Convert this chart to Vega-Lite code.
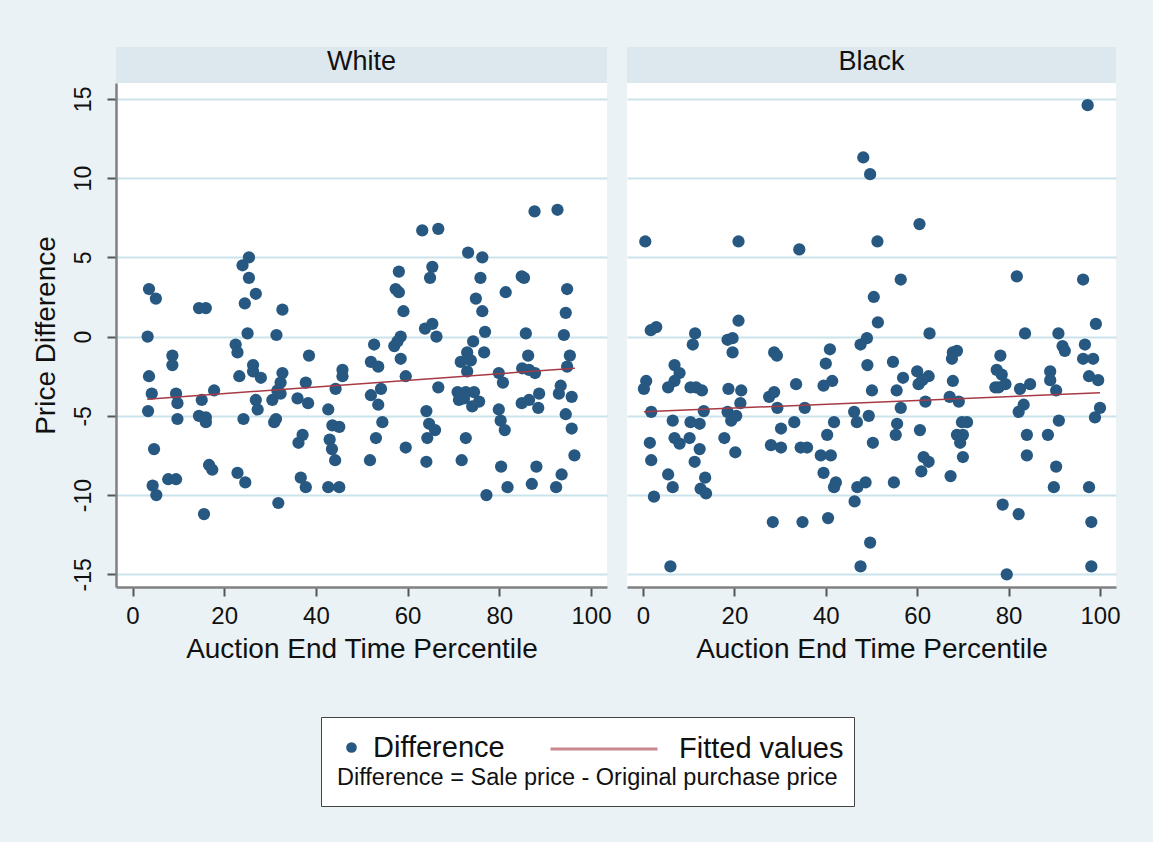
{
  "$schema": "https://vega.github.io/schema/vega-lite/v6.json",
  "background": "#EBF2F5",
  "padding": {"left": 31, "top": 47, "right": 40, "bottom": 45},
  "config": {
    "font": "Liberation Sans",
    "view": {"stroke": null},
    "axis": {"labelFont": "Liberation Sans", "titleFont": "Liberation Sans", "labelColor": "#111", "titleColor": "#111", "titleFontWeight": "normal"},
    "legend": {"labelFont": "Liberation Sans", "titleFont": "Liberation Sans", "labelLimit": 500, "titleLimit": 700}
  },
  "datasets": {
    "headers": [{"race": "White"}, {"race": "Black"}],
    "fit": [
      {"race": "White", "pct": 3.2, "diff": -3.95},
      {"race": "White", "pct": 96.5, "diff": -2.0},
      {"race": "Black", "pct": 0.2, "diff": -4.75},
      {"race": "Black", "pct": 100, "diff": -3.55}
    ],
    "pts": [
      {"race":"White","pct":3.6,"diff":3.0},{"race":"White","pct":5.1,"diff":2.4},{"race":"White","pct":14.5,"diff":1.8},{"race":"White","pct":16.0,"diff":1.8},
      {"race":"White","pct":24.0,"diff":4.5},{"race":"White","pct":25.4,"diff":5.0},{"race":"White","pct":25.4,"diff":3.7},{"race":"White","pct":26.9,"diff":2.7},
      {"race":"White","pct":24.5,"diff":2.1},{"race":"White","pct":32.7,"diff":1.7},{"race":"White","pct":3.3,"diff":0.0},{"race":"White","pct":25.1,"diff":0.2},
      {"race":"White","pct":31.4,"diff":0.1},{"race":"White","pct":22.5,"diff":-0.5},{"race":"White","pct":22.9,"diff":-1.0},{"race":"White","pct":8.7,"diff":-1.2},
      {"race":"White","pct":8.7,"diff":-1.8},{"race":"White","pct":38.5,"diff":-1.2},{"race":"White","pct":3.6,"diff":-2.5},{"race":"White","pct":23.3,"diff":-2.5},
      {"race":"White","pct":26.3,"diff":-1.8},{"race":"White","pct":26.3,"diff":-2.2},{"race":"White","pct":28.0,"diff":-2.6},{"race":"White","pct":32.7,"diff":-2.3},
      {"race":"White","pct":32.3,"diff":-2.9},{"race":"White","pct":31.6,"diff":-3.4},{"race":"White","pct":37.8,"diff":-2.9},{"race":"White","pct":45.8,"diff":-2.1},
      {"race":"White","pct":45.8,"diff":-2.5},{"race":"White","pct":44.3,"diff":-3.3},{"race":"White","pct":4.2,"diff":-3.6},{"race":"White","pct":9.5,"diff":-3.6},
      {"race":"White","pct":9.8,"diff":-4.2},{"race":"White","pct":15.1,"diff":-4.0},{"race":"White","pct":17.8,"diff":-3.4},{"race":"White","pct":26.9,"diff":-4.0},
      {"race":"White","pct":27.3,"diff":-4.6},{"race":"White","pct":30.5,"diff":-4.0},{"race":"White","pct":32.3,"diff":-3.6},{"race":"White","pct":36.0,"diff":-3.9},
      {"race":"White","pct":38.3,"diff":-4.2},{"race":"White","pct":42.7,"diff":-4.6},{"race":"White","pct":3.4,"diff":-4.7},{"race":"White","pct":9.8,"diff":-5.2},
      {"race":"White","pct":14.5,"diff":-5.0},{"race":"White","pct":16.0,"diff":-5.1},{"race":"White","pct":16.0,"diff":-5.4},{"race":"White","pct":24.2,"diff":-5.2},
      {"race":"White","pct":31.3,"diff":-5.2},{"race":"White","pct":30.9,"diff":-5.4},{"race":"White","pct":43.6,"diff":-5.6},{"race":"White","pct":45.1,"diff":-5.7},
      {"race":"White","pct":37.1,"diff":-6.2},{"race":"White","pct":36.2,"diff":-6.7},{"race":"White","pct":43.0,"diff":-6.5},{"race":"White","pct":43.5,"diff":-7.1},
      {"race":"White","pct":44.2,"diff":-7.8},{"race":"White","pct":4.7,"diff":-7.1},{"race":"White","pct":16.7,"diff":-8.1},{"race":"White","pct":17.4,"diff":-8.4},
      {"race":"White","pct":22.9,"diff":-8.6},{"race":"White","pct":24.6,"diff":-9.2},{"race":"White","pct":7.8,"diff":-9.0},{"race":"White","pct":9.5,"diff":-9.0},
      {"race":"White","pct":4.4,"diff":-9.4},{"race":"White","pct":5.2,"diff":-10.0},{"race":"White","pct":36.7,"diff":-8.9},{"race":"White","pct":37.8,"diff":-9.5},
      {"race":"White","pct":42.7,"diff":-9.5},{"race":"White","pct":45.1,"diff":-9.5},{"race":"White","pct":31.8,"diff":-10.5},{"race":"White","pct":15.6,"diff":-11.2},
      {"race":"White","pct":87.7,"diff":7.9},{"race":"White","pct":92.7,"diff":8.0},{"race":"White","pct":63.2,"diff":6.7},{"race":"White","pct":66.7,"diff":6.8},
      {"race":"White","pct":73.2,"diff":5.3},{"race":"White","pct":76.3,"diff":5.0},{"race":"White","pct":58.1,"diff":4.1},{"race":"White","pct":65.4,"diff":4.4},
      {"race":"White","pct":64.9,"diff":3.7},{"race":"White","pct":75.9,"diff":3.7},{"race":"White","pct":84.9,"diff":3.8},{"race":"White","pct":85.4,"diff":3.7},
      {"race":"White","pct":57.4,"diff":3.0},{"race":"White","pct":58.1,"diff":2.8},{"race":"White","pct":94.8,"diff":3.0},{"race":"White","pct":74.9,"diff":2.4},
      {"race":"White","pct":81.4,"diff":2.8},{"race":"White","pct":59.1,"diff":1.6},{"race":"White","pct":76.3,"diff":1.6},{"race":"White","pct":94.5,"diff":1.5},
      {"race":"White","pct":63.8,"diff":0.5},{"race":"White","pct":65.4,"diff":0.8},{"race":"White","pct":58.5,"diff":0.0},{"race":"White","pct":66.3,"diff":0.0},
      {"race":"White","pct":76.9,"diff":0.3},{"race":"White","pct":85.8,"diff":0.2},{"race":"White","pct":94.1,"diff":0.1},{"race":"White","pct":74.3,"diff":-0.3},
      {"race":"White","pct":52.7,"diff":-0.5},{"race":"White","pct":57.1,"diff":-0.6},{"race":"White","pct":57.8,"diff":-0.3},{"race":"White","pct":58.5,"diff":-1.4},
      {"race":"White","pct":59.6,"diff":-2.5},{"race":"White","pct":52.0,"diff":-1.6},{"race":"White","pct":53.6,"diff":-1.9},{"race":"White","pct":54.2,"diff":-3.3},
      {"race":"White","pct":52.0,"diff":-3.7},{"race":"White","pct":53.6,"diff":-4.3},{"race":"White","pct":54.5,"diff":-5.4},{"race":"White","pct":53.1,"diff":-6.4},
      {"race":"White","pct":51.8,"diff":-7.8},{"race":"White","pct":59.6,"diff":-7.0},{"race":"White","pct":66.7,"diff":-3.2},{"race":"White","pct":64.1,"diff":-4.7},
      {"race":"White","pct":64.7,"diff":-5.5},{"race":"White","pct":66.0,"diff":-5.9},{"race":"White","pct":64.3,"diff":-6.4},{"race":"White","pct":64.1,"diff":-7.9},
      {"race":"White","pct":73.0,"diff":-1.0},{"race":"White","pct":71.6,"diff":-1.6},{"race":"White","pct":73.8,"diff":-1.5},{"race":"White","pct":76.7,"diff":-1.0},
      {"race":"White","pct":73.0,"diff":-2.2},{"race":"White","pct":70.9,"diff":-3.5},{"race":"White","pct":71.2,"diff":-4.0},{"race":"White","pct":72.7,"diff":-3.5},
      {"race":"White","pct":74.5,"diff":-3.5},{"race":"White","pct":75.6,"diff":-4.1},{"race":"White","pct":74.1,"diff":-4.4},{"race":"White","pct":72.3,"diff":-3.9},
      {"race":"White","pct":72.7,"diff":-6.4},{"race":"White","pct":71.8,"diff":-7.8},{"race":"White","pct":77.2,"diff":-10.0},{"race":"White","pct":79.9,"diff":-2.3},
      {"race":"White","pct":80.8,"diff":-2.9},{"race":"White","pct":79.9,"diff":-4.6},{"race":"White","pct":80.3,"diff":-5.3},{"race":"White","pct":81.2,"diff":-5.9},
      {"race":"White","pct":80.4,"diff":-8.2},{"race":"White","pct":81.8,"diff":-9.5},{"race":"White","pct":86.3,"diff":-1.2},{"race":"White","pct":85.0,"diff":-2.0},
      {"race":"White","pct":86.5,"diff":-2.1},{"race":"White","pct":87.8,"diff":-2.3},{"race":"White","pct":84.9,"diff":-4.2},{"race":"White","pct":86.5,"diff":-4.0},
      {"race":"White","pct":88.7,"diff":-3.6},{"race":"White","pct":88.5,"diff":-4.5},{"race":"White","pct":88.1,"diff":-8.2},{"race":"White","pct":87.1,"diff":-9.3},
      {"race":"White","pct":95.4,"diff":-1.2},{"race":"White","pct":94.8,"diff":-1.9},{"race":"White","pct":93.4,"diff":-3.1},{"race":"White","pct":93.0,"diff":-3.6},
      {"race":"White","pct":95.8,"diff":-3.8},{"race":"White","pct":94.5,"diff":-4.9},{"race":"White","pct":95.8,"diff":-5.8},{"race":"White","pct":96.4,"diff":-7.5},
      {"race":"White","pct":93.6,"diff":-8.7},{"race":"White","pct":92.4,"diff":-9.5},
      {"race":"Black","pct":48.2,"diff":11.3},{"race":"Black","pct":49.7,"diff":10.25},{"race":"Black","pct":0.5,"diff":6.0},{"race":"Black","pct":20.9,"diff":6.0},
      {"race":"Black","pct":34.2,"diff":5.5},{"race":"Black","pct":51.3,"diff":6.0},{"race":"Black","pct":1.7,"diff":0.4},{"race":"Black","pct":2.9,"diff":0.6},
      {"race":"Black","pct":11.4,"diff":0.2},{"race":"Black","pct":20.9,"diff":1.0},{"race":"Black","pct":18.5,"diff":-0.2},{"race":"Black","pct":19.6,"diff":-0.1},
      {"race":"Black","pct":50.5,"diff":2.5},{"race":"Black","pct":51.4,"diff":0.9},{"race":"Black","pct":49.0,"diff":-0.1},{"race":"Black","pct":47.6,"diff":-0.5},
      {"race":"Black","pct":97.3,"diff":14.6},{"race":"Black","pct":60.5,"diff":7.1},{"race":"Black","pct":56.4,"diff":3.6},{"race":"Black","pct":81.8,"diff":3.8},
      {"race":"Black","pct":96.3,"diff":3.6},{"race":"Black","pct":99.1,"diff":0.8},{"race":"Black","pct":62.7,"diff":0.2},{"race":"Black","pct":83.6,"diff":0.2},
      {"race":"Black","pct":90.9,"diff":0.2},{"race":"Black","pct":10.9,"diff":-0.5},{"race":"Black","pct":19.6,"diff":-1.0},{"race":"Black","pct":28.7,"diff":-1.0},
      {"race":"Black","pct":29.3,"diff":-1.2},{"race":"Black","pct":40.9,"diff":-0.8},{"race":"Black","pct":40.0,"diff":-1.7},{"race":"Black","pct":49.1,"diff":-1.8},
      {"race":"Black","pct":6.9,"diff":-1.8},{"race":"Black","pct":8.0,"diff":-2.3},{"race":"Black","pct":6.9,"diff":-2.8},{"race":"Black","pct":5.5,"diff":-3.2},
      {"race":"Black","pct":0.7,"diff":-2.8},{"race":"Black","pct":0.2,"diff":-3.3},{"race":"Black","pct":10.4,"diff":-3.2},{"race":"Black","pct":11.6,"diff":-3.2},
      {"race":"Black","pct":12.9,"diff":-3.4},{"race":"Black","pct":18.7,"diff":-3.3},{"race":"Black","pct":21.5,"diff":-3.4},{"race":"Black","pct":21.3,"diff":-4.2},
      {"race":"Black","pct":33.5,"diff":-3.0},{"race":"Black","pct":39.5,"diff":-3.1},{"race":"Black","pct":41.4,"diff":-2.8},{"race":"Black","pct":50.1,"diff":-3.4},
      {"race":"Black","pct":27.6,"diff":-3.8},{"race":"Black","pct":28.7,"diff":-3.5},{"race":"Black","pct":29.4,"diff":-4.5},{"race":"Black","pct":35.4,"diff":-4.5},
      {"race":"Black","pct":1.8,"diff":-4.75},{"race":"Black","pct":13.3,"diff":-4.7},{"race":"Black","pct":18.5,"diff":-4.75},{"race":"Black","pct":19.3,"diff":-5.3},
      {"race":"Black","pct":20.4,"diff":-5.0},{"race":"Black","pct":6.5,"diff":-5.3},{"race":"Black","pct":10.4,"diff":-5.4},{"race":"Black","pct":12.4,"diff":-5.5},
      {"race":"Black","pct":30.2,"diff":-5.8},{"race":"Black","pct":33.1,"diff":-5.4},{"race":"Black","pct":41.8,"diff":-5.4},{"race":"Black","pct":46.2,"diff":-4.75},
      {"race":"Black","pct":46.8,"diff":-5.4},{"race":"Black","pct":49.4,"diff":-5.0},{"race":"Black","pct":40.3,"diff":-6.2},{"race":"Black","pct":1.5,"diff":-6.7},
      {"race":"Black","pct":6.9,"diff":-6.4},{"race":"Black","pct":8.0,"diff":-6.75},{"race":"Black","pct":10.2,"diff":-6.4},{"race":"Black","pct":12.4,"diff":-7.1},
      {"race":"Black","pct":17.8,"diff":-6.4},{"race":"Black","pct":20.2,"diff":-7.3},{"race":"Black","pct":28.0,"diff":-6.85},{"race":"Black","pct":30.2,"diff":-7.0},
      {"race":"Black","pct":34.5,"diff":-7.0},{"race":"Black","pct":35.9,"diff":-7.0},{"race":"Black","pct":38.9,"diff":-7.5},{"race":"Black","pct":41.1,"diff":-7.5},
      {"race":"Black","pct":50.3,"diff":-6.7},{"race":"Black","pct":1.8,"diff":-7.8},{"race":"Black","pct":11.3,"diff":-7.9},{"race":"Black","pct":5.5,"diff":-8.7},
      {"race":"Black","pct":6.5,"diff":-9.5},{"race":"Black","pct":13.6,"diff":-8.9},{"race":"Black","pct":12.6,"diff":-9.6},{"race":"Black","pct":13.8,"diff":-9.9},
      {"race":"Black","pct":39.5,"diff":-8.6},{"race":"Black","pct":42.2,"diff":-9.2},{"race":"Black","pct":41.8,"diff":-9.5},{"race":"Black","pct":46.9,"diff":-9.5},
      {"race":"Black","pct":48.7,"diff":-9.2},{"race":"Black","pct":2.4,"diff":-10.1},{"race":"Black","pct":46.3,"diff":-10.4},{"race":"Black","pct":28.4,"diff":-11.7},
      {"race":"Black","pct":34.9,"diff":-11.7},{"race":"Black","pct":40.5,"diff":-11.45},{"race":"Black","pct":49.7,"diff":-13.0},{"race":"Black","pct":6.0,"diff":-14.5},
      {"race":"Black","pct":47.6,"diff":-14.5},{"race":"Black","pct":91.8,"diff":-0.6},{"race":"Black","pct":92.3,"diff":-0.9},{"race":"Black","pct":96.7,"diff":-0.5},
      {"race":"Black","pct":96.3,"diff":-1.4},{"race":"Black","pct":98.5,"diff":-1.4},{"race":"Black","pct":97.6,"diff":-2.5},{"race":"Black","pct":99.6,"diff":-2.75},
      {"race":"Black","pct":54.7,"diff":-1.6},{"race":"Black","pct":56.9,"diff":-2.6},{"race":"Black","pct":55.5,"diff":-3.4},{"race":"Black","pct":56.4,"diff":-4.5},
      {"race":"Black","pct":55.6,"diff":-5.5},{"race":"Black","pct":55.3,"diff":-6.2},{"race":"Black","pct":54.9,"diff":-9.2},{"race":"Black","pct":60.0,"diff":-2.2},
      {"race":"Black","pct":61.1,"diff":-2.75},{"race":"Black","pct":62.5,"diff":-2.5},{"race":"Black","pct":60.3,"diff":-3.0},{"race":"Black","pct":61.8,"diff":-4.1},
      {"race":"Black","pct":60.6,"diff":-5.9},{"race":"Black","pct":61.4,"diff":-7.6},{"race":"Black","pct":62.5,"diff":-7.9},{"race":"Black","pct":60.9,"diff":-8.5},
      {"race":"Black","pct":67.8,"diff":-1.0},{"race":"Black","pct":68.7,"diff":-0.9},{"race":"Black","pct":67.6,"diff":-1.4},{"race":"Black","pct":67.8,"diff":-2.8},
      {"race":"Black","pct":67.1,"diff":-3.8},{"race":"Black","pct":69.1,"diff":-4.1},{"race":"Black","pct":69.8,"diff":-5.4},{"race":"Black","pct":70.9,"diff":-5.4},
      {"race":"Black","pct":68.7,"diff":-6.2},{"race":"Black","pct":70.0,"diff":-6.2},{"race":"Black","pct":69.4,"diff":-6.7},{"race":"Black","pct":70.0,"diff":-7.6},
      {"race":"Black","pct":67.3,"diff":-8.8},{"race":"Black","pct":78.2,"diff":-1.2},{"race":"Black","pct":77.4,"diff":-2.1},{"race":"Black","pct":78.5,"diff":-2.4},
      {"race":"Black","pct":79.3,"diff":-3.0},{"race":"Black","pct":77.1,"diff":-3.2},{"race":"Black","pct":77.8,"diff":-3.2},{"race":"Black","pct":82.5,"diff":-3.3},
      {"race":"Black","pct":84.7,"diff":-3.0},{"race":"Black","pct":83.3,"diff":-4.3},{"race":"Black","pct":82.2,"diff":-4.75},{"race":"Black","pct":84.0,"diff":-6.2},
      {"race":"Black","pct":84.0,"diff":-7.5},{"race":"Black","pct":78.7,"diff":-10.6},{"race":"Black","pct":82.2,"diff":-11.2},{"race":"Black","pct":79.6,"diff":-15.0},
      {"race":"Black","pct":89.1,"diff":-2.2},{"race":"Black","pct":89.1,"diff":-2.75},{"race":"Black","pct":90.4,"diff":-3.4},{"race":"Black","pct":91.0,"diff":-5.3},
      {"race":"Black","pct":88.6,"diff":-6.2},{"race":"Black","pct":90.4,"diff":-8.2},{"race":"Black","pct":89.9,"diff":-9.5},{"race":"Black","pct":100.0,"diff":-4.5},
      {"race":"Black","pct":98.9,"diff":-5.1},{"race":"Black","pct":97.6,"diff":-9.5},{"race":"Black","pct":98.1,"diff":-11.7},{"race":"Black","pct":98.1,"diff":-14.5}
    ]
  },
  "spacing": 16,
  "resolve": {"scale": {"fill": "shared", "stroke": "shared"}, "legend": {"fill": "shared", "stroke": "shared"}},
  "hconcat": [
    {
      "bounds": "flush",
      "spacing": 0,
      "resolve": {"scale": {"fill": "shared", "stroke": "shared"}, "legend": {"fill": "shared", "stroke": "shared"}},
      "vconcat": [
        {
          "data": {"name": "headers"},
          "transform": [{"filter": "datum.race === 'White'"}],
          "width": 491, "height": 36,
          "view": {"fill": "#DCE7EE", "stroke": null},
          "mark": {"type": "text", "fontSize": 27, "color": "#111", "font": "Liberation Sans", "dy": -3},
          "encoding": {"text": {"field": "race", "type": "nominal"}}
        },
        {
          "width": 491, "height": 504,
          "view": {"fill": "white", "stroke": null},
          "layer": [
            {
              "data": {"name": "pts"},
              "transform": [{"filter": "datum.race === 'White'"}],
              "mark": {"type": "point", "filled": true, "shape": "circle", "size": 150, "opacity": 1},
              "encoding": {
                "x": {"field": "pct", "type": "quantitative", "scale": {"domain": [-3.6, 103.5], "nice": false, "zero": false},
                  "axis": {"values": [0, 20, 40, 60, 80, 100], "title": "Auction End Time Percentile", "grid": false, "tickSize": 9, "tickWidth": 2, "tickColor": "#555", "domainColor": "#808080", "domainWidth": 2.5, "labelFontSize": 24, "labelPadding": 8, "titleFontSize": 28, "titlePadding": 7, "labelFlush": false}},
                "y": {"field": "diff", "type": "quantitative", "scale": {"domain": [-15.8, 16], "nice": false, "zero": false},
                  "axis": {"values": [-15, -10, -5, 0, 5, 10, 15], "title": "Price Difference", "grid": true, "gridColor": "#CBE3EA", "gridWidth": 2, "tickSize": 9, "tickWidth": 2, "tickColor": "#555", "domainColor": "#808080", "domainWidth": 2.5, "labelFontSize": 23, "labelAngle": -90, "labelAlign": "center", "labelBaseline": "alphabetic", "labelPadding": 17, "labelExpr": "'' + datum.value", "titleFontSize": 28, "titlePadding": 12, "labelFlush": false}},
                "fill": {"datum": "Difference", "type": "nominal", "scale": {"domain": ["Difference"], "range": ["#265881"]},
                  "legend": {"orient": "none", "legendX": 205, "legendY": 670, "title": "Difference = Sale price - Original purchase price", "titleOrient": "bottom", "titleAnchor": "start", "titleFontSize": 23.5, "titleFontWeight": "normal", "titleColor": "#111", "titlePadding": 3, "labelFontSize": 29, "labelColor": "#111", "labelOffset": 7, "symbolType": "circle", "symbolSize": 113, "symbolStrokeWidth": 0, "symbolOpacity": 1, "padding": 16, "strokeColor": "#444", "fillColor": "white", "direction": "horizontal"}}
              }
            },
            {
              "data": {"name": "fit"},
              "transform": [{"filter": "datum.race === 'White'"}],
              "mark": {"type": "line", "strokeWidth": 1.5},
              "encoding": {
                "x": {"field": "pct", "type": "quantitative"},
                "y": {"field": "diff", "type": "quantitative"},
                "stroke": {"datum": "Fitted values", "type": "nominal", "scale": {"domain": ["Fitted values"], "range": ["#A63A45"]},
                  "legend": {"orient": "none", "legendX": 417, "legendY": 631, "title": null, "labelFontSize": 29, "labelColor": "#111", "labelOffset": 20, "symbolType": "stroke", "symbolSize": 11449, "symbolOpacity": 0.6, "symbolStrokeWidth": 3, "padding": 16, "zindex": 2, "direction": "horizontal"}}
              }
            }
          ]
        }
      ]
    },
    {
      "bounds": "flush",
      "spacing": 0,
      "resolve": {"scale": {"fill": "shared", "stroke": "shared"}, "legend": {"fill": "shared", "stroke": "shared"}},
      "vconcat": [
        {
          "data": {"name": "headers"},
          "transform": [{"filter": "datum.race === 'Black'"}],
          "width": 489, "height": 36,
          "view": {"fill": "#DCE7EE", "stroke": null},
          "mark": {"type": "text", "fontSize": 27, "color": "#111", "font": "Liberation Sans", "dy": -3},
          "encoding": {"text": {"field": "race", "type": "nominal"}}
        },
        {
          "width": 489, "height": 504,
          "view": {"fill": "white", "stroke": null},
          "layer": [
            {
              "data": {"name": "pts"},
              "transform": [{"filter": "datum.race === 'Black'"}],
              "mark": {"type": "point", "filled": true, "shape": "circle", "size": 150, "opacity": 1},
              "encoding": {
                "x": {"field": "pct", "type": "quantitative", "scale": {"domain": [-3.5, 103.5], "nice": false, "zero": false},
                  "axis": {"values": [0, 20, 40, 60, 80, 100], "title": "Auction End Time Percentile", "grid": false, "tickSize": 9, "tickWidth": 2, "tickColor": "#555", "domainColor": "#808080", "domainWidth": 2.5, "labelFontSize": 24, "labelPadding": 8, "titleFontSize": 28, "titlePadding": 7, "labelFlush": false}},
                "y": {"field": "diff", "type": "quantitative", "scale": {"domain": [-15.8, 16], "nice": false, "zero": false},
                  "axis": {"values": [-15, -10, -5, 0, 5, 10, 15], "title": null, "grid": true, "gridColor": "#CBE3EA", "gridWidth": 2, "labels": false, "ticks": false, "domain": false}},
                "fill": {"datum": "Difference", "type": "nominal", "scale": {"domain": ["Difference"], "range": ["#265881"]},
                  "legend": {"orient": "none", "legendX": 205, "legendY": 670, "title": "Difference = Sale price - Original purchase price", "titleOrient": "bottom", "titleAnchor": "start", "titleFontSize": 23.5, "titleFontWeight": "normal", "titleColor": "#111", "titlePadding": 3, "labelFontSize": 29, "labelColor": "#111", "labelOffset": 7, "symbolType": "circle", "symbolSize": 113, "symbolStrokeWidth": 0, "symbolOpacity": 1, "padding": 16, "strokeColor": "#444", "fillColor": "white", "direction": "horizontal"}}
              }
            },
            {
              "data": {"name": "fit"},
              "transform": [{"filter": "datum.race === 'Black'"}],
              "mark": {"type": "line", "strokeWidth": 1.5},
              "encoding": {
                "x": {"field": "pct", "type": "quantitative"},
                "y": {"field": "diff", "type": "quantitative"},
                "stroke": {"datum": "Fitted values", "type": "nominal", "scale": {"domain": ["Fitted values"], "range": ["#A63A45"]},
                  "legend": {"orient": "none", "legendX": 417, "legendY": 631, "title": null, "labelFontSize": 29, "labelColor": "#111", "labelOffset": 20, "symbolType": "stroke", "symbolSize": 11449, "symbolOpacity": 0.6, "symbolStrokeWidth": 3, "padding": 16, "zindex": 2, "direction": "horizontal"}}
              }
            }
          ]
        }
      ]
    }
  ]
}
